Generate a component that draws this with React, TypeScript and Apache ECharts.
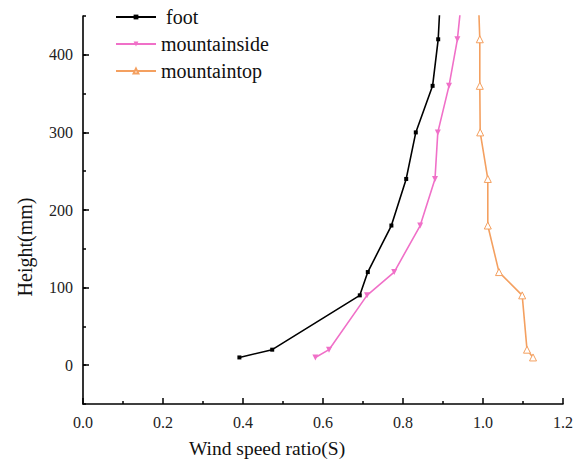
import React, { useEffect, useRef } from "react";
import * as echarts from "echarts";

const heights = [10, 20, 90, 120, 180, 240, 300, 360, 420, 480];
const foot = [0.391, 0.473, 0.692, 0.712, 0.771, 0.808, 0.832, 0.874, 0.888, 0.894];
const mountainside = [0.581, 0.615, 0.71, 0.778, 0.843, 0.88, 0.887, 0.915, 0.936, 0.948];
const mountaintop = [1.125, 1.11, 1.098, 1.04, 1.012, 1.012, 0.993, 0.992, 0.992, 0.988];
const yLabels = [0, 100, 200, 300, 400];

const FONT = "Liberation Serif";

export default function App() {
  const ref = useRef<HTMLDivElement>(null);
  useEffect(() => {
    if (!ref.current) return;
    const chart = echarts.init(ref.current, null, { renderer: "svg" });
    const toPairs = (xs: number[]) => xs.map((v, i) => [v, heights[i]]);
    const axisLineStyle = { color: "#000", width: 1.6 };
    chart.setOption({
      animation: false,
      backgroundColor: "#fff",
      grid: { left: 83, right: 23, top: 16, bottom: 60 },
      legend: {
        orient: "vertical",
        left: 115,
        top: 7,
        padding: 0,
        itemWidth: 40,
        itemHeight: 6,
        itemGap: 7,
        textStyle: { fontFamily: FONT, fontSize: 20, color: "#111", lineHeight: 20 },
        formatter: (n: string) => (n === "foot" ? " foot" : n),
        data: ["foot", "mountainside", "mountaintop"],
      },
      xAxis: {
        type: "value",
        min: 0,
        max: 1.2,
        interval: 0.2,
        axisLine: { show: true, onZero: false, lineStyle: axisLineStyle },
        axisTick: { show: true, inside: true, length: 6, lineStyle: { color: "#000", width: 1.5 } },
        minorTick: { show: true, splitNumber: 2, length: 3, lineStyle: { color: "#000", width: 1.5 } },
        splitLine: { show: false },
        axisLabel: {
          fontFamily: FONT,
          fontSize: 16,
          color: "#222",
          margin: 10,
          formatter: (v: number) => v.toFixed(1),
        },
      },
      yAxis: [
        {
          type: "value",
          min: -50,
          max: 450,
          interval: 50,
          axisLine: { show: true, onZero: false, lineStyle: axisLineStyle },
          axisTick: {
            show: true,
            inside: true,
            length: 6,
            customValues: yLabels,
            lineStyle: { color: "#000", width: 1.5 },
          },
          splitLine: { show: false },
          axisLabel: {
            fontFamily: FONT,
            fontSize: 16,
            color: "#222",
            margin: 10,
            customValues: yLabels,
          },
        },
        {
          type: "value",
          min: -50,
          max: 450,
          interval: 50,
          position: "left",
          offset: 0,
          axisLine: { show: false, onZero: false },
          axisTick: { show: true, inside: true, length: 3, lineStyle: { color: "#000", width: 1.5 } },
          splitLine: { show: false },
          axisLabel: { show: false },
        },
      ],
      graphic: [
        {
          type: "text",
          x: 267,
          y: 448,
          style: {
            text: "Wind speed ratio(S)",
            font: `19.5px ${FONT}`,
            fill: "#111",
            textAlign: "center",
            textVerticalAlign: "middle",
          },
        },
        {
          type: "text",
          x: 25,
          y: 247,
          rotation: Math.PI / 2,
          style: {
            text: "Height(mm)",
            font: `20px ${FONT}`,
            fill: "#111",
            textAlign: "center",
            textVerticalAlign: "middle",
          },
        },
      ],
      series: [
        {
          name: "foot",
          type: "line",
          data: toPairs(foot),
          yAxisIndex: 0,
          color: "#000",
          symbol: "rect",
          symbolSize: 4,
          lineStyle: { color: "#000", width: 1.6 },
          itemStyle: { color: "#000" },
        },
        {
          name: "mountainside",
          type: "line",
          data: toPairs(mountainside),
          yAxisIndex: 0,
          color: "#F070C8",
          symbol: "triangle",
          symbolRotate: 180,
          symbolSize: 6,
          lineStyle: { color: "#F070C8", width: 1.6 },
          itemStyle: { color: "#F070C8" },
        },
        {
          name: "mountaintop",
          type: "line",
          data: toPairs(mountaintop),
          yAxisIndex: 0,
          color: "#F4A060",
          symbol: "triangle",
          symbolSize: 7,
          lineStyle: { color: "#F4A060", width: 1.6 },
          itemStyle: { color: "#fff", borderColor: "#F4A060", borderWidth: 1 },
        },
      ],
    });
    return () => chart.dispose();
  }, []);
  return (
    <div
      ref={ref}
      style={{ position: "fixed", left: 0, top: 0, width: 586, height: 464, background: "#fff" }}
    />
  );
}
